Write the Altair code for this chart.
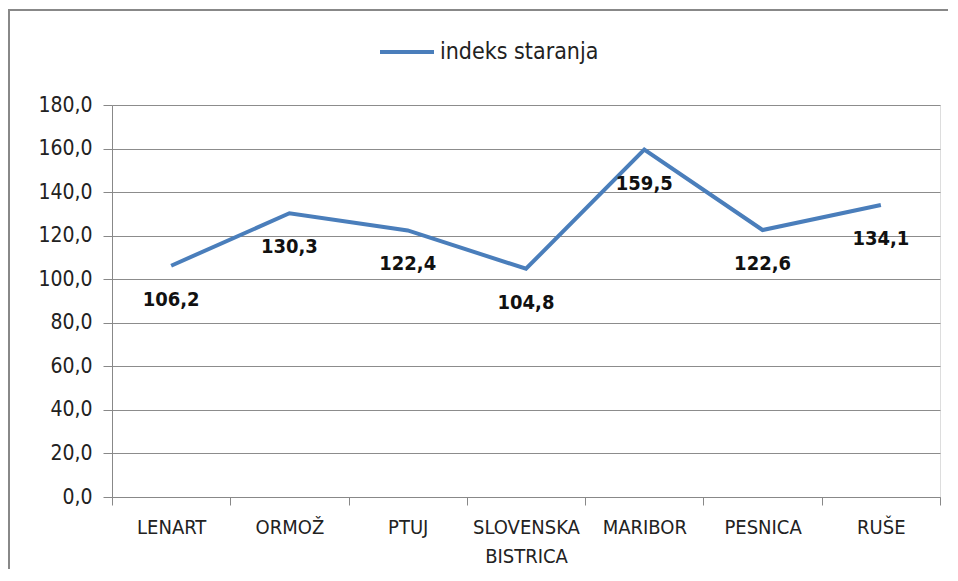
import altair as alt
import pandas as pd

categories = ["LENART", "ORMOŽ", "PTUJ", "SLOVENSKA BISTRICA", "MARIBOR", "PESNICA", "RUŠE"]
values = [106.2, 130.3, 122.4, 104.8, 159.5, 122.6, 134.1]
series_name = "indeks staranja"

df = pd.DataFrame({"kraj": categories, "vrednost": values, "serija": [series_name] * len(values)})

FONT = "Liberation Sans Narrow, DejaVu Sans Condensed, sans-serif"
BLUE = "#4a7ebb"
W, H = 828, 392

x_enc = alt.X("kraj:N", sort=categories, title=None,
              scale=alt.Scale(paddingInner=0, paddingOuter=0),
              axis=alt.Axis(labelAngle=0, labelExpr="split(datum.label, ' ')",
                            labelFontSize=20, labelColor="#222", labelFont=FONT,
                            labelPadding=12, labelLineHeight=29,
                            tickBand="extent", tickSize=8, tickColor="#888",
                            domainColor="#888", grid=False, labelBaseline="top"))
y_enc = alt.Y("vrednost:Q", title=None,
              scale=alt.Scale(domain=[0, 180], nice=False, zero=True),
              axis=alt.Axis(values=list(range(0, 181, 20)),
                            labelExpr="replace(format(datum.value, '.1f'), '.', ',')",
                            labelFontSize=21, labelColor="#222", labelFont=FONT,
                            labelPadding=11, tickSize=9, tickColor="#888",
                            domainColor="#888", gridColor="#8c8c8c", gridWidth=1))

base = alt.Chart(df)

line = base.mark_line(strokeWidth=4, color=BLUE).encode(
    x=x_enc, y=y_enc,
    color=alt.Color("serija:N", scale=alt.Scale(range=[BLUE]),
                    legend=alt.Legend(title=None, orient="none", legendX=266, legendY=-82,
                                      symbolType="stroke", symbolSize=2916,
                                      symbolStrokeWidth=4, labelFontSize=23,
                                      labelFont=FONT, labelColor="#222",
                                      labelOffset=4)))

labels = base.transform_calculate(
    txt="replace(format(datum.vrednost, '.1f'), '.', ',')"
).mark_text(dy=34, fontWeight="bold", fontSize=20, font=FONT, color="#111").encode(
    x=alt.X("kraj:N", sort=categories), y="vrednost:Q", text="txt:N")

border_top = alt.Chart(pd.DataFrame({"a": [0]})).mark_rule(color="#888", strokeWidth=2).encode(
    x=alt.value(-104), x2=alt.value(836), y=alt.value(-95))
border_left = alt.Chart(pd.DataFrame({"a": [0]})).mark_rule(color="#888", strokeWidth=2).encode(
    x=alt.value(-103), y=alt.value(-95), y2=alt.value(470))

chart = alt.layer(border_top, border_left, line, labels).properties(
    width=W, height=H,
    autosize=alt.AutoSizeParams(type="none"),
    padding={"left": 104, "top": 97, "right": 8, "bottom": 72},
).configure_view(stroke=None).configure(background="white")

chart.save("out.html", embed_options={"renderer": "svg", "actions": False})
